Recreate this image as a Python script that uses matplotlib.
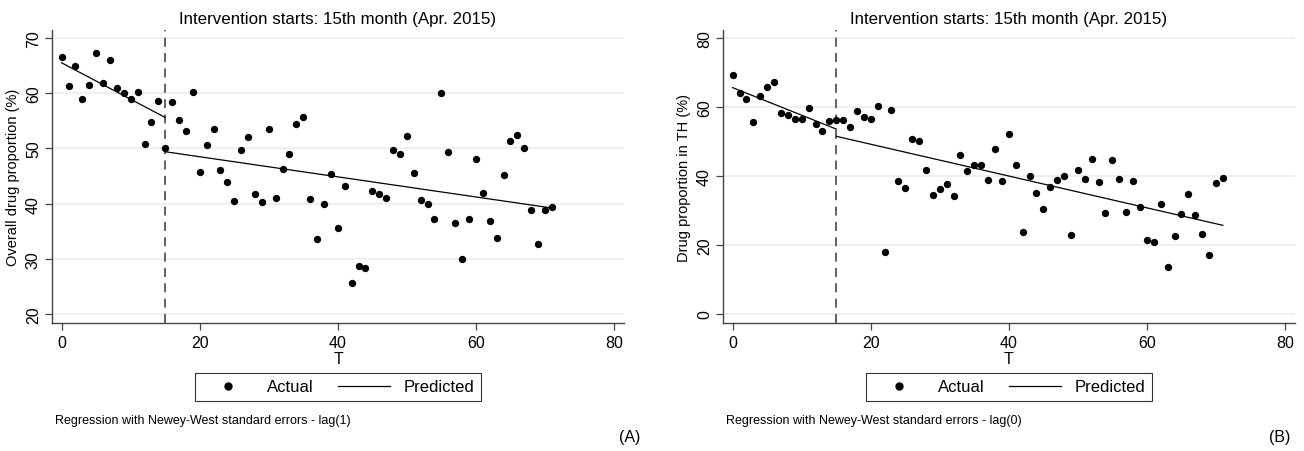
import matplotlib
matplotlib.use("Agg")
import matplotlib.pyplot as plt
from matplotlib.lines import Line2D

plt.rcParams['font.family'] = ['Liberation Sans', 'DejaVu Sans']

# Data
T = list(range(72))

actual_a = [66.5, 61.3, 64.9, 59.0, 61.5, 67.3, 61.8, 66.1, 60.9, 60.0, 59.0, 60.2,
            50.8, 54.7, 58.6, 50.1, 58.4, 55.1, 53.2, 60.2, 45.8, 50.7, 53.6, 46.1,
            43.9, 40.5, 49.8, 52.0, 41.8, 40.2, 53.5, 41.1, 46.2, 49.0, 54.5, 55.6,
            40.8, 33.5, 39.9, 45.4, 35.6, 43.1, 25.6, 28.7, 28.3, 42.2, 41.8, 41.0,
            49.7, 49.0, 52.2, 45.5, 40.7, 40.0, 37.3, 60.0, 49.3, 36.5, 30.0, 37.3,
            48.1, 41.9, 36.8, 33.8, 45.1, 51.4, 52.4, 50.1, 38.9, 32.7, 38.9, 39.3]

actual_b = [69.4, 64.0, 62.4, 55.6, 63.1, 65.9, 67.1, 58.2, 57.7, 56.5, 56.5, 59.6,
            55.1, 53.1, 56.0, 56.2, 56.1, 54.3, 58.9, 57.2, 56.6, 60.3, 18.0, 59.0,
            38.6, 36.5, 50.6, 50.0, 41.6, 34.4, 36.1, 37.7, 34.3, 46.2, 41.4, 43.2,
            43.1, 38.9, 47.8, 38.5, 52.2, 43.3, 23.9, 40.1, 35.0, 30.3, 36.8, 38.8,
            40.1, 22.8, 41.7, 39.0, 45.0, 38.4, 29.2, 44.5, 39.0, 29.7, 38.6, 30.9,
            21.4, 20.8, 31.9, 13.7, 22.5, 29.0, 34.7, 28.8, 23.1, 17.2, 38.1, 39.3]

# predicted segments (before / after intervention)
t_pre = [0, 15]
t_post = [15, 71]
pred_a_pre = [65.5, 55.6]
pred_a_post = [49.4, 39.2]
pred_b_pre = [65.6, 53.6]
pred_b_post = [51.5, 25.7]

intervention = 15
title = "Intervention starts: 15th month (Apr. 2015)"

panels = [
    dict(actual=actual_a, pre=pred_a_pre, post=pred_a_post,
         ylabel="Overall drug proportion (%)", yticks=[20, 30, 40, 50, 60, 70],
         ylim=(18.37, 71.45), note="Regression with Newey-West standard errors - lag(1)",
         tag="(A)", left=52, tag_x=640),
    dict(actual=actual_b, pre=pred_b_pre, post=pred_b_post,
         ylabel="Drug proportion in TH (%)", yticks=[0, 20, 40, 60, 80],
         ylim=(-2.6, 82.3), note="Regression with Newey-West standard errors - lag(0)",
         tag="(B)", left=723, tag_x=1290),
]

W, H = 1304, 452
fig = plt.figure(figsize=(W / 100, H / 100), dpi=100)

spine_col = '#444444'
for p in panels:
    ax_w = 572
    ax = fig.add_axes([p['left'] / W, (H - 324) / H, ax_w / W, 293 / H])

    for y in p['yticks']:
        ax.axhline(y, color='#efefef', lw=1.5, zorder=0)

    ax.axvline(intervention, color='#555555', lw=1.3, linestyle=(0, (5, 3.5)), zorder=1)
    ax.scatter(T, p['actual'], s=28, color='black', zorder=3, linewidths=0)
    ax.plot(t_pre, p['pre'], color='black', lw=0.9, zorder=2)
    ax.plot(t_post, p['post'], color='black', lw=0.9, zorder=2)

    ax.set_xlim(-1.4, 81.45)
    ax.set_ylim(*p['ylim'])
    ax.set_xticks([0, 20, 40, 60, 80])
    ax.set_yticks(p['yticks'])
    for lbl in ax.get_yticklabels():
        lbl.set_rotation(90)
        lbl.set_va('center')
    ax.tick_params(axis='both', direction='out', length=5, width=0.9,
                   color=spine_col, labelsize=11.5)
    ax.tick_params(axis='y', pad=3)

    for s in ['top', 'right']:
        ax.spines[s].set_visible(False)
    for s in ['left', 'bottom']:
        ax.spines[s].set_color(spine_col)
        ax.spines[s].set_linewidth(1.0)

    ax.set_title(title, fontsize=12.2, pad=5)
    ax.set_xlabel("T", fontsize=11.5, labelpad=1)
    ax.set_ylabel(p['ylabel'], fontsize=10.5, labelpad=4)

    handles = [
        Line2D([], [], marker='o', linestyle='none', color='black', markersize=5),
        Line2D([], [], color='black', lw=0.9),
    ]
    leg = ax.legend(handles, ["Actual", "Predicted"], loc='center',
                    bbox_to_anchor=(0.5, -0.218), ncol=2, frameon=True,
                    fancybox=False, edgecolor='black', fontsize=12,
                    handlelength=3.1, columnspacing=1.5, handletextpad=0.8,
                    borderpad=0.4, numpoints=1)
    leg.get_frame().set_linewidth(0.8)

    fig.text((p['left'] + 3) / W, 1 - 421 / H, p['note'], fontsize=9,
             ha='left', va='center')
    fig.text(p['tag_x'] / W, 1 - 438 / H, p['tag'], fontsize=11.5,
             ha='right', va='center')

fig.savefig("out.png", dpi=100)
